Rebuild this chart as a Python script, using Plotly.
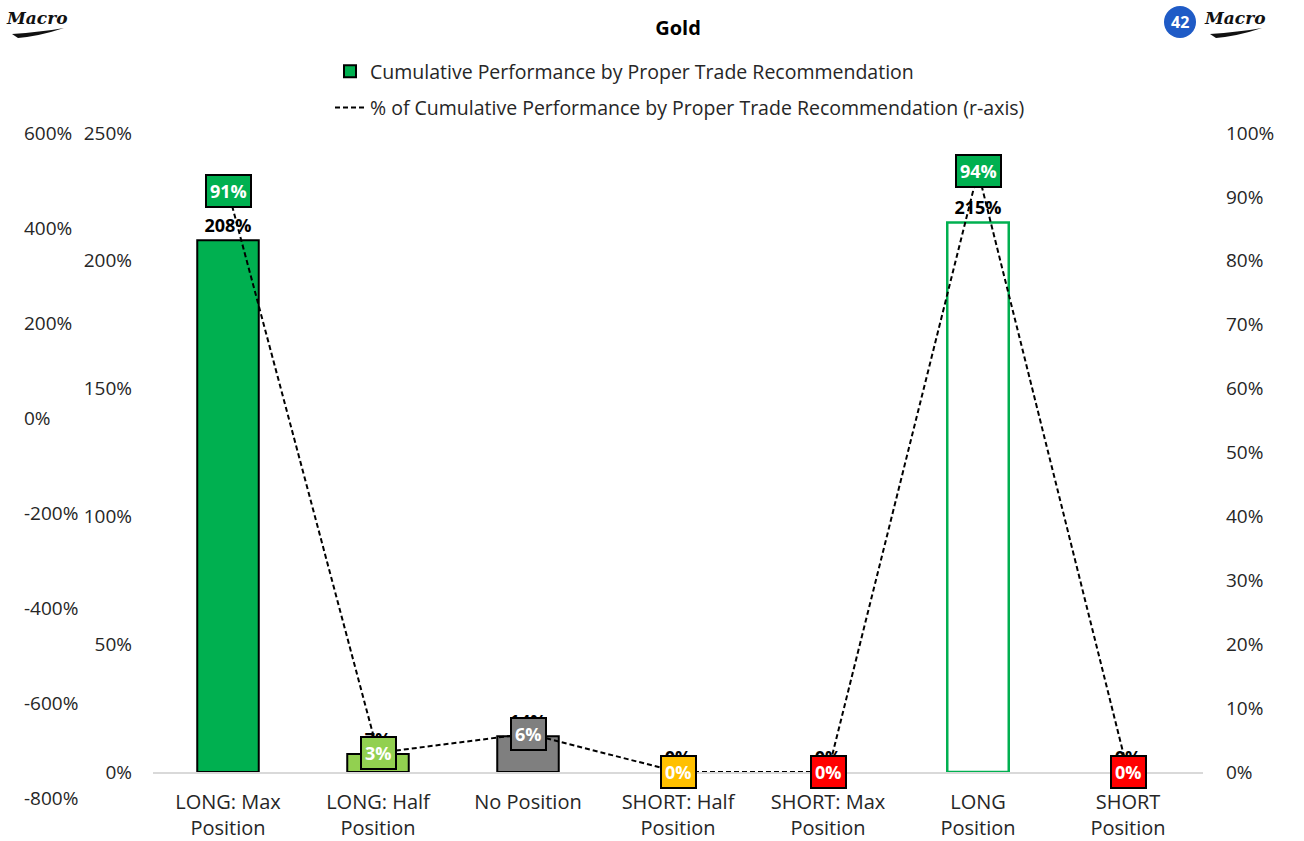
import plotly.graph_objects as go

# ---- data ----
categories = ["LONG: Max Position", "LONG: Half Position", "No Position",
              "SHORT: Half Position", "SHORT: Max Position", "LONG Position",
              "SHORT Position"]
category_labels = ["LONG: Max<br>Position", "LONG: Half<br>Position", "No Position",
                   "SHORT: Half<br>Position", "SHORT: Max<br>Position", "LONG<br>Position",
                   "SHORT<br>Position"]
cumulative_perf = [2.08, 0.07, 0.14, 0.00, 0.00, 2.15, 0.00]
pct_of_cumulative = [0.91, 0.03, 0.06, 0.00, 0.00, 0.94, 0.00]
left_ticks = [0, 0.5, 1.0, 1.5, 2.0, 2.5]
right_ticks = [0, 0.1, 0.2, 0.3, 0.4, 0.5, 0.6, 0.7, 0.8, 0.9, 1.0]
outer_tick_vals = [600, 400, 200, 0, -200, -400, -600, -800]
outer_tick_text = ["600%", "400%", "200%", "0%", "-200%", "-400%", "-600%", "-800%"]

# ---- styling ----
GREEN = "#00B050"
LIGHT_GREEN = "#92D050"
GREY = "#7F7F7F"
GOLD = "#FFC000"
RED = "#FF0000"
box_colors = [GREEN, LIGHT_GREEN, GREY, GOLD, RED, GREEN, RED]
bar_fill = [GREEN, LIGHT_GREEN, GREY, GOLD, RED, "#FFFFFF", RED]
bar_edge = ["#000000", "#000000", "#000000", "#000000", "#000000", GREEN, "#000000"]
bar_edge_w = [2, 2, 2, 0, 0, 2.5, 0]
FONT = "Open Sans"
TXT = "#262626"

W, H = 1304, 841
ML, MR, MT, MB = 20, 101, 115, 26
PW, PH = W - ML - MR, H - MT - MB
PLOT_TOP, PLOT_BOTTOM = 133, 772
OUTER_SCALE = 0.475  # px per percentage point on the outer scale


def px(x):
    return (x - ML) / PW


def py(y):
    return (H - MB - y) / PH


fig = go.Figure()

fig.add_trace(go.Bar(
    x=categories, y=cumulative_perf,
    name="Cumulative Performance by Proper Trade Recommendation",
    legendgroup="a",
    marker=dict(color=bar_fill, line=dict(color=bar_edge, width=bar_edge_w)),
    width=0.41,
    texttemplate="%{y:.0%}", textposition="outside",
    textfont=dict(family=FONT, size=18, color="#000000", weight="bold"),
    constraintext="none", cliponaxis=False,
))

fig.add_trace(go.Scatter(
    x=categories, y=pct_of_cumulative, yaxis="y2",
    name="% of Cumulative Performance by Proper Trade Recommendation (r-axis)",
    legendgroup="b",
    mode="lines", line=dict(color="#000000", width=2, dash="5px,3px"),
    cliponaxis=False,
))

# carrier trace for the outer left scale
fig.add_trace(go.Scatter(
    x=[categories[0]], y=[0], yaxis="y3", mode="markers",
    marker=dict(opacity=0), showlegend=False, hoverinfo="skip",
))

# value boxes on the line
for cat, val, col in zip(categories, pct_of_cumulative, box_colors):
    fig.add_annotation(
        x=cat, y=val, xref="x", yref="y2", text=f"{val:.0%}", showarrow=False,
        xanchor="center", yanchor="middle",
        font=dict(family=FONT, size=18, color="#FFFFFF", weight="bold"),
        bgcolor=col, bordercolor="#000000", borderwidth=2, borderpad=3,
    )

# logos
logo_font = dict(family="DejaVu Serif", size=17, color="#111111", style="italic", weight="bold")
for cx in (36, 1234):
    fig.add_annotation(x=px(cx), y=py(18), xref="paper", yref="paper", showarrow=False,
                       xanchor="center", yanchor="middle", text="Macro", font=logo_font)
    fig.add_shape(type="path", xref="paper", yref="paper",
                  path=f"M{px(cx - 24)},{py(34)} Q{px(cx + 4)},{py(32)} {px(cx + 28)},{py(28)} "
                       f"Q{px(cx + 4)},{py(36)} {px(cx - 18)},{py(38)} Z",
                  fillcolor="#111111", line=dict(width=0))
fig.add_shape(type="circle", xref="paper", yref="paper", layer="below",
              x0=px(1164), x1=px(1196), y0=py(38), y1=py(6),
              fillcolor="#1F5BC6", line=dict(width=0))
fig.add_annotation(x=px(1180), y=py(22), xref="paper", yref="paper", showarrow=False,
                   xanchor="center", yanchor="middle",
                   text="42", font=dict(family=FONT, size=16, color="#FFFFFF", weight="bold"))

tickfont = dict(family=FONT, size=19, color=TXT)

fig.update_layout(
    width=W, height=H, template="none",
    margin=dict(l=ML, r=MR, t=MT, b=MB, autoexpand=False),
    paper_bgcolor="#FFFFFF", plot_bgcolor="rgba(0,0,0,0)",
    title=dict(text="<b>Gold</b>", x=678 / W, xanchor="center", xref="container",
               y=1 - 28 / H, yanchor="middle", yref="container",
               font=dict(family=FONT, size=20, color="#000000")),
    showlegend=True,
    legend=dict(x=px(330), xanchor="left", y=py(52), yanchor="top",
                orientation="v", tracegroupgap=8,
                font=dict(family=FONT, size=19.5, color=TXT),
                bgcolor="rgba(0,0,0,0)"),
    xaxis=dict(domain=[px(153), 1], tickmode="array", tickvals=categories,
               ticktext=category_labels, tickfont=dict(family=FONT, size=20, color=TXT),
               showline=True, linecolor="#D9D9D9", linewidth=2, showgrid=False,
               ticks="", automargin=False, ticklabelstandoff=11, zeroline=False),
    yaxis=dict(domain=[py(PLOT_BOTTOM), py(PLOT_TOP)], range=[0, 2.5], tickvals=left_ticks,
               tickformat=".0%", tickfont=tickfont, showgrid=False, zeroline=False,
               showline=False, ticks="", automargin=False, ticklabelstandoff=20),
    yaxis2=dict(overlaying="y", side="right", range=[0, 1], tickvals=right_ticks,
                tickformat=".0%", tickfont=tickfont, showgrid=False, zeroline=False,
                showline=False, ticks="", automargin=False, ticklabelstandoff=22),
    yaxis3=dict(anchor="free", position=0, side="left", domain=[0, 1],
                range=[600 - (H - MB - PLOT_TOP) / OUTER_SCALE,
                       600 + (PLOT_TOP - MT) / OUTER_SCALE],
                tickmode="array", tickvals=outer_tick_vals, ticktext=outer_tick_text,
                ticklabelposition="inside", tickfont=tickfont, showgrid=False,
                zeroline=False, showline=False, ticks="", automargin=False),
)

fig.write_html("out.html")
